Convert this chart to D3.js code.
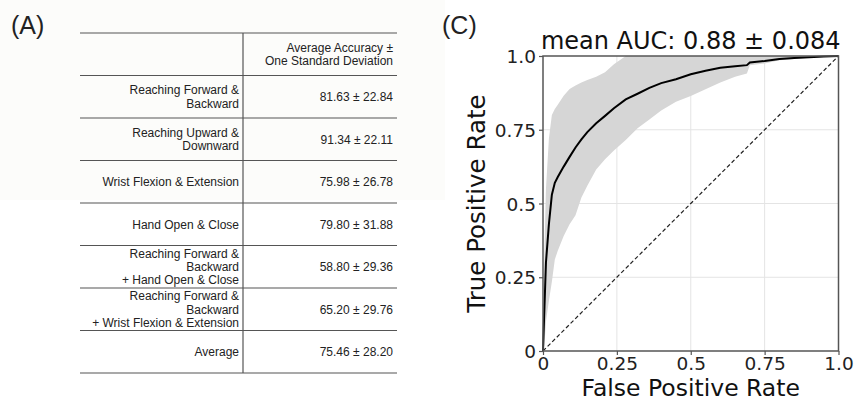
<!DOCTYPE html>
<html>
<head>
<meta charset="utf-8">
<script src="https://cdn.jsdelivr.net/npm/d3@7"></script>
<style>
  body { margin: 0; background: #fff; }
  svg { display: block; }
</style>
</head>
<body>
<svg id="fig" width="854" height="403"></svg>
<script>
// table (A)
const rowLabels = [
  ["Reaching Forward &", "Backward"],
  ["Reaching Upward &", "Downward"],
  ["Wrist Flexion & Extension"],
  ["Hand Open & Close"],
  ["Reaching Forward &", "Backward", "+ Hand Open & Close"],
  ["Reaching Forward &", "Backward", "+ Wrist Flexion & Extension"],
  ["Average"]
];
const accMean = ["81.63", "91.34", "75.98", "79.80", "58.80", "65.20", "75.46"];
const accStd = ["22.84", "22.11", "26.78", "31.88", "29.36", "29.76", "28.20"];
const headerLines = ["Average Accuracy \u00b1", "One Standard Deviation"];

// ROC (C)
const fpr = [0, 0.005, 0.01, 0.02, 0.03, 0.04, 0.05, 0.07, 0.09, 0.11, 0.13, 0.15, 0.18, 0.21, 0.24,
  0.28, 0.32, 0.36, 0.40, 0.45, 0.50, 0.55, 0.60, 0.65, 0.69, 0.70, 0.75, 0.80, 0.85, 0.90, 0.95, 1.0];
const tprMean = [0, 0.15, 0.30, 0.43, 0.53, 0.57, 0.59, 0.625, 0.658, 0.69, 0.717, 0.742, 0.772, 0.797, 0.823,
  0.853, 0.872, 0.892, 0.908, 0.921, 0.938, 0.95, 0.96, 0.965, 0.969, 0.978, 0.983, 0.99, 0.993, 0.996, 0.998, 1.0];
const tprUpper = [0, 0.35, 0.55, 0.72, 0.80, 0.82, 0.835, 0.865, 0.888, 0.90, 0.91, 0.919, 0.93, 0.945, 0.972,
  1.0, 1.0, 1.0, 1.0, 1.0, 1.0, 1.0, 1.0, 1.0, 1.0, 1.0, 1.0, 1.0, 1.0, 1.0, 1.0, 1.0];
const tprLower = [0, 0.02, 0.10, 0.17, 0.235, 0.31, 0.34, 0.39, 0.43, 0.46, 0.52, 0.56, 0.615, 0.65, 0.68,
  0.715, 0.755, 0.785, 0.815, 0.845, 0.864, 0.887, 0.91, 0.93, 0.941, 0.969, 0.975, 0.986, 0.99, 0.994, 0.997, 1.0];
const ticks = [0, 0.25, 0.5, 0.75, 1.0];
const tickLabels = ["0", "0.25", "0.5", "0.75", "1.0"];
const titleText = "mean AUC: 0.88 \u00b1 0.084";

const svg = d3.select("#fig");

// faint backdrop behind the upper part of the table
svg.append("rect").attr("x", 0).attr("y", 0).attr("width", 445).attr("height", 200)
  .attr("fill", "#fcfcfa");

// ---- panel A: table ----
const tFont = "'Liberation Sans', Arial, sans-serif";
svg.append("text").attr("x", 11).attr("y", 34).attr("font-family", tFont)
  .attr("font-size", 25).attr("fill", "#222").text("(A)");

const tLeft = 80, tRight = 397, tDiv = 243;
const rowScale = d3.scaleBand()
  .domain(d3.range(rowLabels.length + 1))
  .range([33, 373]);

const table = svg.append("g");
const lineColor = "#555";
const bounds = d3.range(rowLabels.length + 2).map(i => i <= rowLabels.length ? rowScale(i) : rowScale(rowLabels.length) + rowScale.bandwidth());
table.selectAll(".hline").data(bounds).enter().append("line")
  .attr("x1", tLeft).attr("x2", tRight)
  .attr("y1", d => d).attr("y2", d => d)
  .attr("stroke", lineColor).attr("stroke-width", 1.2);
table.append("line")
  .attr("x1", tDiv).attr("x2", tDiv)
  .attr("y1", bounds[0]).attr("y2", bounds[bounds.length - 1])
  .attr("stroke", lineColor).attr("stroke-width", 1.2);

const lineH = 13.2;
function multiline(g, lines, x, rowIdx) {
  const cy = rowScale(rowIdx) + rowScale.bandwidth() / 2;
  const y0 = cy - (lines.length - 1) * lineH / 2 + 4.3;
  g.selectAll(null).data(lines).enter().append("text")
    .attr("x", x).attr("y", (d, i) => y0 + i * lineH)
    .attr("text-anchor", "end")
    .attr("font-family", tFont).attr("font-size", 12).attr("fill", "#222")
    .text(d => d);
}
multiline(table, headerLines, tRight - 4, 0);
rowLabels.forEach((lines, i) => {
  multiline(table, lines, tDiv - 4, i + 1);
  multiline(table, [accMean[i] + " \u00b1 " + accStd[i]], tRight - 4, i + 1);
});

// ---- panel C: ROC ----
svg.append("text").attr("x", 442).attr("y", 34).attr("font-family", tFont)
  .attr("font-size", 25).attr("fill", "#222").text("(C)");

const pFont = "'DejaVu Sans', sans-serif";
const x = d3.scaleLinear().domain([0, 1]).range([543, 838.5]);
const y = d3.scaleLinear().domain([0, 1]).range([351, 56]);
const roc = svg.append("g");

// grid
roc.selectAll(".gx").data(ticks.slice(1, -1)).enter().append("line")
  .attr("x1", d => x(d)).attr("x2", d => x(d)).attr("y1", y(0)).attr("y2", y(1))
  .attr("stroke", "#e4e4e4").attr("stroke-width", 1);
roc.selectAll(".gy").data(ticks.slice(1, -1)).enter().append("line")
  .attr("y1", d => y(d)).attr("y2", d => y(d)).attr("x1", x(0)).attr("x2", x(1))
  .attr("stroke", "#e4e4e4").attr("stroke-width", 1);

const idx = d3.range(fpr.length);
roc.append("path").datum(idx)
  .attr("d", d3.area().x(i => x(fpr[i])).y0(i => y(tprLower[i])).y1(i => y(tprUpper[i])))
  .attr("fill", "#d6d6d6");

roc.append("line")
  .attr("x1", x(0)).attr("y1", y(0)).attr("x2", x(1)).attr("y2", y(1))
  .attr("stroke", "#222").attr("stroke-width", 1.2).attr("stroke-dasharray", "4,2.5");

roc.append("path").datum(idx)
  .attr("d", d3.line().x(i => x(fpr[i])).y(i => y(tprMean[i])))
  .attr("fill", "none").attr("stroke", "#000").attr("stroke-width", 2);

// axes
const xAxis = d3.axisBottom(x).tickValues(ticks).tickFormat((d, i) => tickLabels[i])
  .tickSizeOuter(0).tickSizeInner(4).tickPadding(2);
const yAxis = d3.axisLeft(y).tickValues(ticks).tickFormat((d, i) => tickLabels[i])
  .tickSizeOuter(0).tickSizeInner(4).tickPadding(3);
const gx = roc.append("g").attr("transform", `translate(0,${y(0)})`).call(xAxis);
const gy = roc.append("g").attr("transform", `translate(${x(0)},0)`).call(yAxis);
[gx, gy].forEach(g => {
  g.select(".domain").remove();
  g.selectAll(".tick line").attr("stroke", "#555").attr("stroke-width", 1.2);
  g.selectAll(".tick text").attr("font-family", pFont).attr("font-size", 18.5).attr("fill", "#222");
});
gy.selectAll(".tick text").attr("dy", "0.36em");

roc.append("rect")
  .attr("x", x(0)).attr("y", y(1)).attr("width", x(1) - x(0)).attr("height", y(0) - y(1))
  .attr("fill", "none").attr("stroke", "#555").attr("stroke-width", 1.5);

roc.append("text").attr("x", (x(0) + x(1)) / 2).attr("y", 49)
  .attr("text-anchor", "middle").attr("font-family", pFont).attr("font-size", 24).attr("fill", "#111")
  .text(titleText);
roc.append("text").attr("x", (x(0) + x(1)) / 2).attr("y", 396)
  .attr("text-anchor", "middle").attr("font-family", pFont).attr("font-size", 23.5).attr("fill", "#111")
  .text("False Positive Rate");
roc.append("text")
  .attr("transform", `translate(485,${(y(0) + y(1)) / 2}) rotate(-90)`)
  .attr("text-anchor", "middle").attr("font-family", pFont).attr("font-size", 24.5).attr("fill", "#111")
  .text("True Positive Rate");
</script>
</body>
</html>
